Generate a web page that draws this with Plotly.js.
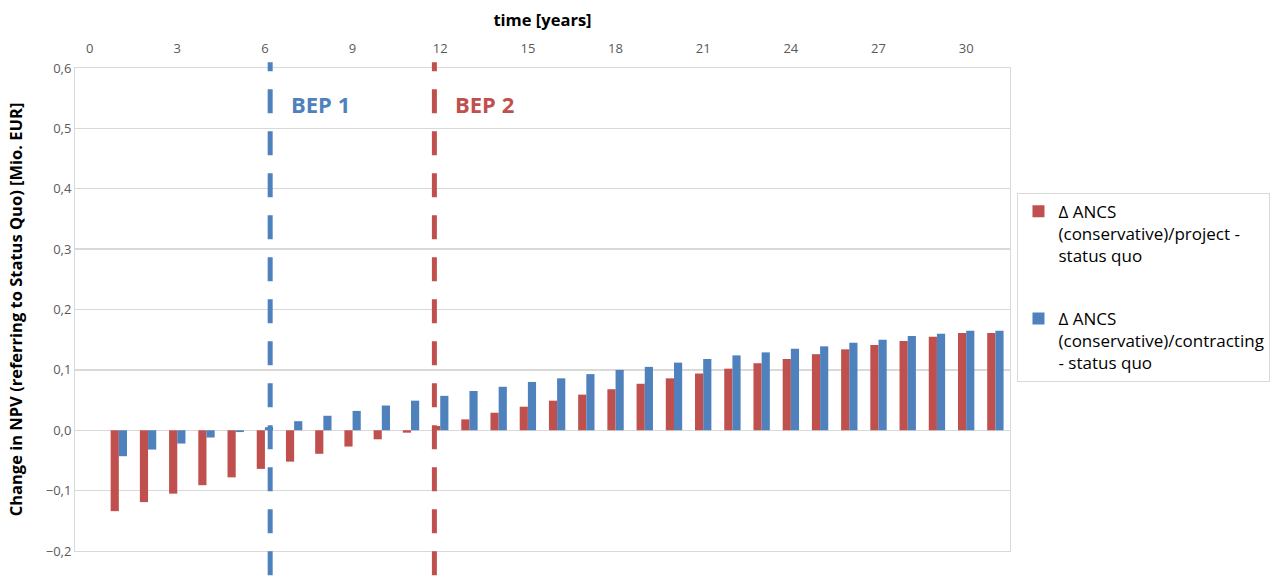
<!DOCTYPE html>
<html>
<head>
<meta charset="utf-8">
<script src="https://cdn.plot.ly/plotly-3.0.1.min.js"></script>
<style>html,body{margin:0;padding:0;background:#fff;}#chart{width:1271px;height:579px;}</style>
</head>
<body>
<div id="chart"></div>
<script>
const years = [0,1,2,3,4,5,6,7,8,9,10,11,12,13,14,15,16,17,18,19,20,21,22,23,24,25,26,27,28,29,30,31];
const projectValues = [0,-0.134,-0.119,-0.105,-0.091,-0.078,-0.064,-0.052,-0.039,-0.027,-0.015,-0.004,0.007,0.018,0.029,0.039,0.049,0.059,0.068,0.077,0.086,0.094,0.102,0.111,0.118,0.126,0.134,0.141,0.148,0.155,0.161,0.161];
const contractingValues = [0,-0.043,-0.032,-0.022,-0.012,-0.003,0.005,0.015,0.024,0.032,0.041,0.049,0.057,0.065,0.072,0.080,0.086,0.093,0.100,0.105,0.112,0.118,0.124,0.129,0.135,0.139,0.145,0.150,0.156,0.160,0.165,0.165];
const xTickVals = [0,3,6,9,12,15,18,21,24,27,30];
const seriesNames = ["Δ ANCS<br>(conservative)/project -<br>status quo", "Δ ANCS<br>(conservative)/contracting<br>- status quo"];
const bepLabels = ["BEP 1", "BEP 2"];
const bepYears = [6.18, 11.8];

const red = "#c0504d", blue = "#4f81bd";
const font = "Open Sans, Liberation Sans, sans-serif";

const traces = [
  {type:"bar", x: years, y: projectValues, name: seriesNames[0], legendgroup:"g1", marker:{color:red}},
  {type:"bar", x: years, y: contractingValues, name: seriesNames[1], legendgroup:"g2", marker:{color:blue}}
];

const layout = {
  width:1271, height:579,
  margin:{l:75, r:261, t:68, b:28, autoexpand:false},
  paper_bgcolor:"#fff", plot_bgcolor:"#fff",
  separators:",.",
  barmode:"group", bargap:0.44, bargroupgap:0,
  font:{family:font, color:"#595959", size:13},
  xaxis:{
    side:"top", range:[-0.5,31.5], tickvals:xTickVals, ticks:"",
    ticklabelstandoff:9,
    showgrid:false, zeroline:false, showline:true, linecolor:"#d9d9d9", mirror:true,
    tickfont:{size:13, color:"#595959"},
    title:{text:"<b>time [years]</b>", font:{size:16.5, color:"#000"}, standoff:8}
  },
  yaxis:{
    range:[-0.2,0.6], dtick:0.1, tickformat:".1f", ticks:"",
    showgrid:true, gridcolor:"#d9d9d9", gridwidth:1.3,
    zeroline:true, zerolinecolor:"#d9d9d9", zerolinewidth:1.3,
    showline:true, linecolor:"#d9d9d9", mirror:true,
    tickfont:{size:13, color:"#595959"},
    title:{text:"<b>Change in NPV (referring to Status Quo) [Mio. EUR]</b>", font:{size:16.5, color:"#000"}, standoff:18}
  },
  legend:{
    x:1.008, xanchor:"left", y:0.742, yanchor:"top",
    bordercolor:"#d9d9d9", borderwidth:1, bgcolor:"#fff",
    font:{size:17, color:"#000"}, tracegroupgap:38, itemwidth:30, valign:"top"
  },
  shapes:[
    {type:"line", xref:"x", yref:"paper", x0:bepYears[0], x1:bepYears[0], y0:-0.05, y1:1.012,
     line:{color:blue, width:5, dash:"24px,18px"}},
    {type:"line", xref:"x", yref:"paper", x0:bepYears[1], x1:bepYears[1], y0:-0.05, y1:1.012,
     line:{color:red, width:5, dash:"24px,18px"}}
  ],
  annotations:[
    {x:bepYears[0], y:0.54, xref:"x", yref:"y", text:"<b>"+bepLabels[0]+"</b>", showarrow:false,
     xanchor:"left", xshift:19, font:{size:22, color:blue}},
    {x:bepYears[1], y:0.54, xref:"x", yref:"y", text:"<b>"+bepLabels[1]+"</b>", showarrow:false,
     xanchor:"left", xshift:19, font:{size:22, color:red}}
  ]
};

Plotly.newPlot("chart", traces, layout, {displayModeBar:false, staticPlot:true});
</script>
</body>
</html>
